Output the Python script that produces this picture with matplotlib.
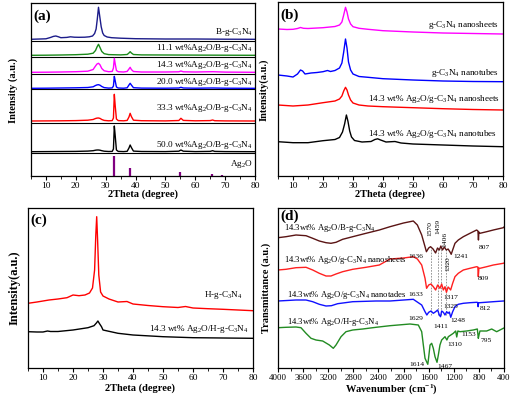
import matplotlib
matplotlib.use("Agg")
import matplotlib.pyplot as plt
from matplotlib.ticker import MultipleLocator

plt.rcParams['font.family'] = ['Liberation Serif', 'DejaVu Serif']
plt.rcParams['mathtext.fontset'] = 'custom'
plt.rcParams['mathtext.rm'] = 'Liberation Serif'
plt.rcParams['mathtext.it'] = 'Liberation Serif:italic'
plt.rcParams['mathtext.bf'] = 'Liberation Serif:bold'

# ---------------- Panel (a): XRD, B-g-C3N4 series ----------------
a_x_b = [5, 8, 10, 11.5, 12.5, 13.3, 14.2, 15, 17, 18.2, 19.5, 21, 23, 24.5, 25.6, 26.3, 26.8, 27.2, 27.6, 28.0, 28.5, 29.0, 29.5, 30.5, 32, 35, 40, 50, 60, 70, 80]
a_y_b = [136.7, 137, 137.2, 138.5, 139.6, 140, 139.2, 138.3, 138.6, 139.2, 138.8, 138.7, 138.8, 139.2, 140, 142.5, 147, 157, 168.7, 160, 149.3, 143, 140.5, 139, 138.3, 137.8, 137.3, 137, 137, 136.8, 136.7]

a_x_11 = [5, 10, 15, 20, 24, 25.8, 26.6, 27.1, 27.6, 28.1, 28.7, 29.5, 31, 35, 37.2, 37.8, 38.2, 38.6, 39.3, 42, 50, 60, 80]
a_y_11 = [120.7, 120.8, 121, 121.3, 121.8, 122.8, 125.5, 129, 131.7, 128.5, 124.5, 122.3, 121.4, 121.1, 121.5, 123, 124.3, 123, 121.5, 121.1, 121, 120.9, 120.7]

a_x_mid = [5, 10, 15, 20, 24, 25.8, 26.6, 27.1, 27.6, 28.1, 28.7, 29.5, 31, 32.2, 32.6, 32.9, 33.2, 33.6, 34.2, 36, 37.2, 37.8, 38.2, 38.6, 39.3, 42, 50, 54.5, 55.2, 56, 60, 65.8, 70, 80]
a_y_14 = [103.7, 103.8, 104, 104.3, 104.8, 106.5, 110, 112, 112.7, 111.2, 107.5, 105.2, 104.3, 104.6, 108, 117.7, 112, 105.5, 104.3, 104, 104.6, 107, 108.7, 106.5, 104.5, 104, 104, 104.2, 105, 104.2, 104, 104.3, 103.9, 103.7]
a_y_20 = [87.7, 87.8, 88, 88.2, 88.5, 89.2, 90.5, 91.1, 91.3, 90.8, 89.5, 88.4, 87.9, 88.1, 90, 99.7, 95, 89, 88, 87.8, 88.2, 91, 92.7, 91, 88.3, 87.9, 87.8, 88, 88.7, 88, 87.8, 88, 87.8, 87.7]

a_x_hi = [5, 10, 15, 20, 24, 25.8, 26.6, 27.1, 27.6, 28.1, 28.7, 29.5, 31, 32.2, 32.6, 32.9, 33.2, 33.6, 34.2, 36, 37.2, 37.8, 38.2, 38.6, 39.3, 42, 50, 54.5, 55.2, 56, 60, 65, 65.8, 66.5, 70, 80]
a_y_33 = [55, 55.1, 55.2, 55.4, 55.8, 56.5, 57.5, 57.9, 58, 57.6, 56.5, 55.6, 55.2, 55.4, 58, 81.7, 70, 57, 55.4, 55.2, 55.6, 59, 62.7, 59.5, 55.8, 55.3, 55.1, 55.5, 57.7, 55.6, 55.2, 55.4, 56, 55.3, 55.1, 55]
a_y_50 = [24.3, 24.4, 24.5, 24.6, 24.9, 25.3, 25.8, 26, 26, 25.8, 25.3, 24.8, 24.5, 24.6, 27, 50, 40, 26, 24.6, 24.4, 24.7, 28, 31, 28.5, 24.9, 24.5, 24.4, 24.8, 26, 24.8, 24.4, 24.6, 25.3, 24.6, 24.4, 24.3]

ag2o_pos = [32.9, 38.1, 55.0, 65.6, 68.8]
ag2o_int = [20, 8, 4, 2.5, 1.5]
a_separators = [22.7, 52.7, 86.7, 102, 119.3, 135.3]

a_labels = ['B-g-C$_3$N$_4$', '11.1 wt%Ag$_2$O/B-g-C$_3$N$_4$', '14.3 wt%Ag$_2$O/B-g-C$_3$N$_4$',
            '20.0 wt%Ag$_2$O/B-g-C$_3$N$_4$', '33.3 wt%Ag$_2$O/B-g-C$_3$N$_4$',
            '50.0 wt%Ag$_2$O/B-g-C$_3$N$_4$', 'Ag$_2$O']

# ---------------- Panel (b) ----------------
b_x_ns = [5, 8, 10, 11.5, 12.5, 13.5, 15, 20, 24, 25.5, 26.3, 26.9, 27.5, 28.0, 28.5, 29.2, 30, 32, 35, 40, 50, 60, 70, 80]
b_y_ns = [147, 146.5, 146.7, 147.5, 148.5, 147.7, 147.5, 148.3, 149.5, 151, 154, 161, 168.7, 164, 157, 152, 149.3, 147.7, 146.7, 145.3, 144, 143, 142.5, 142]
b_x_nt = [5, 8, 10, 11.5, 12.5, 13.2, 14, 16, 18, 20, 21.5, 22.5, 24, 25.5, 26.3, 26.9, 27.5, 28.0, 28.5, 29.2, 30, 32, 35, 40, 50, 60, 70, 80]
b_y_nt = [101, 100, 99, 102, 106, 105, 102, 103, 103.5, 104.3, 105.5, 104.5, 105.5, 108, 113, 124, 137, 128, 114, 106, 102, 99.5, 98.7, 97.3, 96, 95, 94.5, 94.3]
b_x_agns = [5, 10, 15, 20, 24, 25.5, 26.3, 26.9, 27.5, 28.0, 28.5, 29.2, 30, 32, 35, 40, 50, 60, 70, 80]
b_y_agns = [71, 70, 71, 73.3, 75, 77, 80, 85, 88.7, 86, 81, 76, 73, 71, 70, 69.3, 68.3, 67.3, 66.5, 66]
b_x_agnt = [5, 10, 15, 20, 24, 25.5, 26.5, 27.2, 27.8, 28.3, 28.9, 29.5, 30.5, 33, 36, 37.3, 38.2, 39.2, 41, 44, 46, 50, 60, 70, 80]
b_y_agnt = [34.3, 33.3, 33.3, 35.3, 36.5, 38.5, 44, 52, 61, 55, 45, 39, 35.5, 34, 34.5, 36.5, 37.2, 36, 34, 34.5, 33, 32, 31, 30, 29.3]
b_labels = ['g-C$_3$N$_4$ nanosheets', 'g-C$_3$N$_4$ nanotubes',
            '14.3 wt% Ag$_2$O/g-C$_3$N$_4$ nanosheets', '14.3 wt% Ag$_2$O/g-C$_3$N$_4$ nanotubes']

# ---------------- Panel (c) ----------------
c_x_h = [5, 8, 10, 12, 15, 18, 20, 22, 24, 25.5, 26.5, 27.2, 27.6, 27.9, 28.2, 28.6, 29.2, 30, 32, 35, 38, 40, 45, 50, 55, 57.5, 60, 65, 70, 75, 80]
c_y_h = [64.7, 66, 67, 68, 69, 70.3, 73, 72.3, 73, 75, 80, 98, 133, 151.3, 128, 93, 76, 72, 69, 66, 66.5, 64, 62.5, 61.3, 60.5, 61.5, 60, 59.3, 58.7, 58, 57.3]
c_x_ag = [5, 8, 10, 11.5, 12.5, 15, 20, 25, 27, 27.8, 28.3, 28.8, 29.5, 30, 35, 40, 50, 60, 70, 80]
c_y_ag = [36.3, 36, 36, 37, 36.5, 36.5, 38, 40.3, 42.3, 45, 47, 44.5, 41.3, 38, 34.7, 33, 31.3, 30.3, 30, 29.7]
c_labels = ['H-g-C$_3$N$_4$', '14.3 wt% Ag$_2$O/H-g-C$_3$N$_4$']

# ---------------- Panel (d): FTIR ----------------
d_wn_b = [4000, 3873, 3713, 3554, 3447, 3342, 3235, 3156, 3076, 2970, 2810, 2598, 2386, 2216, 2000, 1845, 1780, 1711, 1658, 1636, 1600, 1570, 1530, 1490, 1459, 1430, 1406, 1380, 1350, 1320, 1290, 1260, 1241, 1218, 1181, 1128, 1048, 942, 836, 815, 807, 800, 783, 676, 570, 411, 400]
d_t_b = [130.3, 131.3, 133, 132.3, 129.7, 127, 125.3, 124.7, 125.7, 128.7, 131.3, 134.7, 138, 141.3, 145, 147, 143, 133, 121.3, 116.3, 120, 121.3, 119, 115, 120, 118, 122, 118, 121, 118, 119, 116, 113.7, 118, 124.7, 128, 131.3, 134.7, 138, 137, 128, 136, 134.7, 136.3, 138, 140.3, 141]
d_wn_r = [4000, 3873, 3713, 3554, 3447, 3342, 3235, 3156, 3076, 2970, 2810, 2598, 2386, 2216, 2000, 1845, 1780, 1711, 1658, 1633, 1600, 1563, 1526, 1489, 1457, 1420, 1393, 1366, 1340, 1317, 1290, 1271, 1250, 1218, 1181, 1128, 1048, 942, 836, 817, 809, 800, 783, 676, 570, 411, 400]
d_t_r = [98, 98.7, 100.3, 100.7, 98, 94.7, 92, 92, 94, 96.3, 98.7, 100.7, 103, 109, 110, 111.3, 109, 103, 89.7, 79.7, 83, 84, 81.3, 78, 83, 79.7, 84, 78, 81.3, 75.7, 81, 79.7, 78, 84.7, 91.3, 94.7, 98, 99.7, 101.3, 101, 91.3, 100, 99.7, 101.3, 103, 104.7, 105]
d_wn_nt = [4000, 3713, 3554, 3447, 3342, 3235, 3150, 3050, 2810, 2440, 2216, 1845, 1711, 1658, 1629, 1600, 1563, 1526, 1489, 1457, 1430, 1411, 1393, 1366, 1340, 1313, 1290, 1271, 1248, 1218, 1181, 1128, 1048, 942, 836, 817, 812, 805, 783, 570, 411, 400]
d_t_nt = [67, 68, 68, 66.3, 63.7, 62, 62.3, 64.3, 66.3, 67, 67, 68.7, 63, 56.3, 53, 55.7, 57, 54.7, 56.3, 58, 53, 51.3, 57, 55.7, 53, 56.3, 54.7, 56, 50.7, 56.3, 61.3, 63.7, 64.7, 65.3, 65.7, 65.5, 61.3, 65.3, 65.3, 66.3, 67, 67]
d_wn_h = [4000, 3873, 3713, 3634, 3554, 3474, 3395, 3288, 3182, 3119, 3076, 2996, 2917, 2810, 2651, 2439, 2216, 1898, 1765, 1711, 1685, 1658, 1631, 1614, 1605, 1578, 1552, 1526, 1499, 1467, 1446, 1420, 1393, 1340, 1310, 1287, 1207, 1170, 1153, 1135, 1101, 995, 889, 825, 809, 795, 783, 676, 596, 517, 411, 400]
d_t_h = [40.3, 40.7, 41, 40.3, 34.7, 29.7, 28, 27, 23, 19.7, 23, 31.3, 36.3, 38, 39, 40.7, 42.3, 44, 43, 36.3, 23, 9.7, 6, 3.7, 8, 23, 24.7, 19.7, 11.3, 5.7, 13, 23, 28, 31.3, 28, 31.3, 34.7, 37, 31, 37, 36.3, 37, 38, 39, 29.7, 34, 37, 37, 39, 36.3, 39.7, 40]
d_labels = ['14.3wt% Ag$_2$O/B-g-C$_3$N$_4$', '14.3wt% Ag$_2$O/g-C$_3$N$_4$ nanosheets',
            '14.3wt% Ag$_2$O/g-C$_3$N$_4$ nanotades', '14.3wt% Ag$_2$O/H-g-C$_3$N$_4$']
d_dash_wn = [1570, 1459, 1406, 1320]

W, H = 517, 397
fig = plt.figure(figsize=(W / 100, H / 100), dpi=100)


def P(x, y):
    return (x / W, 1 - y / H)


def add_ax(l, t, r, b):
    return fig.add_axes([l / W, 1 - b / H, (r - l) / W, (b - t) / H])


TICK = 6.8
LW = 1.0


def style_xrd(ax, ymax):
    ax.set_xlim(5, 80)
    ax.set_ylim(0, ymax)
    ax.xaxis.set_major_locator(MultipleLocator(10))
    ax.xaxis.set_minor_locator(MultipleLocator(5))
    ax.set_yticks([])
    ax.tick_params(axis='x', direction='out', length=3, width=0.8, labelsize=TICK, pad=1)
    ax.tick_params(axis='x', which='minor', direction='out', length=2, width=0.6)
    for s in ax.spines.values():
        s.set_linewidth(0.9)


# ---- (a)
ax = add_ax(31, 3, 255, 176)
style_xrd(ax, 173)
for yv in a_separators:
    ax.axhline(yv, color='black', lw=0.8)
ax.plot(a_x_b, a_y_b, color='#1c1c8a', lw=LW)
ax.plot(a_x_11, a_y_11, color='#1a8a1a', lw=LW)
ax.plot(a_x_mid, a_y_14, color='#ff00ff', lw=LW)
ax.plot(a_x_mid, a_y_20, color='#0000ff', lw=LW)
ax.plot(a_x_hi, a_y_33, color='#ff0000', lw=LW)
ax.plot(a_x_hi, a_y_50, color='black', lw=LW)
ax.vlines(ag2o_pos, 0, ag2o_int, color='#800080', lw=1.6)
a_lab_y = [32.3, 48.3, 65, 81.7, 108.3, 145, 164.3]
for lab, yy in zip(a_labels, a_lab_y):
    fig.text(*P(253, yy), lab, ha='right', va='center', fontsize=6.6)
fig.text(*P(33, 16), '(a)', fontsize=11, fontweight='bold', va='center')
fig.text(*P(143, 194), '2Theta (degree)', fontsize=7.5, fontweight='bold', ha='center', va='center')
fig.text(*P(13, 90), 'Intensity (a.u.)', fontsize=7.5, fontweight='bold', rotation=90, ha='center', va='center')

# ---- (b)
ax = add_ax(278, 2, 503, 176)
style_xrd(ax, 174)
ax.plot(b_x_ns, b_y_ns, color='#ff00ff', lw=LW)
ax.plot(b_x_nt, b_y_nt, color='#0000ff', lw=LW)
ax.plot(b_x_agns, b_y_agns, color='#ff0000', lw=LW)
ax.plot(b_x_agnt, b_y_agnt, color='black', lw=LW)
b_lab = [(499, 25), (499, 73), (500, 99), (497, 134)]
for lab, (xx, yy) in zip(b_labels, b_lab):
    fig.text(*P(xx, yy), lab, ha='right', va='center', fontsize=6.6)
fig.text(*P(280, 15), '(b)', fontsize=11, fontweight='bold', va='center')
fig.text(*P(390, 194), '2Theta (degree)', fontsize=7.5, fontweight='bold', ha='center', va='center')
fig.text(*P(264, 90), 'Intensity(a.u.)', fontsize=7.5, fontweight='bold', rotation=90, ha='center', va='center')

# ---- (c)
ax = add_ax(28, 208, 253, 368)
style_xrd(ax, 160)
ax.plot(c_x_h, c_y_h, color='#ff0000', lw=LW)
ax.plot(c_x_ag, c_y_ag, color='black', lw=LW)
fig.text(*P(243, 295), c_labels[0], ha='right', va='center', fontsize=6.6)
fig.text(*P(249, 329), c_labels[1], ha='right', va='center', fontsize=6.6)
fig.text(*P(30, 220), '(c)', fontsize=11, fontweight='bold', va='center')
fig.text(*P(140, 388), '2Theta (degree)', fontsize=7.5, fontweight='bold', ha='center', va='center')
fig.text(*P(15, 288), 'Intensity(a.u.)', fontsize=9, fontweight='bold', rotation=90, ha='center', va='center')

# ---- (d)
ax = add_ax(278, 208, 504, 368)
ax.set_xlim(4000, 400)
ax.set_ylim(0, 160)
ax.xaxis.set_major_locator(MultipleLocator(400))
ax.xaxis.set_minor_locator(MultipleLocator(200))
ax.set_yticks([])
ax.tick_params(axis='x', direction='out', length=3, width=0.8, labelsize=6.4, pad=1)
ax.tick_params(axis='x', which='minor', direction='out', length=2, width=0.6)
for s in ax.spines.values():
    s.set_linewidth(0.9)
ax.vlines(d_dash_wn, 53, 120, colors='#888888', linestyles=(0, (2, 1.5)), lw=0.6)
ax.plot(d_wn_b, d_t_b, color='#5a1414', lw=LW)
ax.plot(d_wn_r, d_t_r, color='#ff2020', lw=LW)
ax.plot(d_wn_nt, d_t_nt, color='#1010ff', lw=LW)
ax.plot(d_wn_h, d_t_h, color='#228b22', lw=LW)
d_lab = [(284, 228), (284, 260), (287, 295), (287, 322)]
for lab, (xx, yy) in zip(d_labels, d_lab):
    fig.text(*P(xx, yy), lab, ha='left', va='center', fontsize=6.2)
AN = 5.4
peak_txt = [('1636', 423, 257, 'right'), ('1241', 453, 257, 'left'), ('807', 479, 247, 'left'),
            ('1633', 423, 294, 'right'), ('809', 478, 279, 'left'), ('1317', 443, 297.5, 'left'),
            ('1325', 443, 306, 'left'), ('812', 480, 308, 'left'), ('1629', 423, 318, 'right'),
            ('1411', 433, 327, 'left'), ('1248', 450, 321, 'left'), ('1310', 447, 344, 'left'),
            ('1153', 461, 335, 'left'), ('795', 481, 340, 'left'), ('1614', 425, 365, 'right'),
            ('1467', 437, 366, 'left')]
for t, xx, yy, ha in peak_txt:
    fig.text(*P(xx, yy), t, fontsize=AN, ha=ha, va='center')
rot_txt = [('1570', 430, 229), ('1459', 437.5, 226), ('1406', 444.5, 239), ('1320', 448, 264)]
for t, xx, yy in rot_txt:
    fig.text(*P(xx, yy), t, fontsize=AN, rotation=90, ha='center', va='center')
fig.text(*P(280, 216), '(d)', fontsize=11, fontweight='bold', va='center')
fig.text(*P(391, 389), 'Wavenumber (cm$^{\\mathbf{-1}}$)', fontsize=7.5, fontweight='bold', ha='center', va='center')
fig.text(*P(266, 288), 'Transmittance (a.u.)', fontsize=7.5, fontweight='bold', rotation=90, ha='center', va='center')

fig.savefig('out.png', dpi=100)
